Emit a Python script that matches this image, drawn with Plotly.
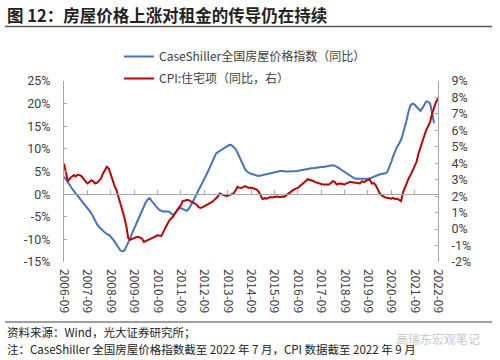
import plotly.graph_objects as go
import pandas as pd

# ---------------- data ----------------
title_text = "图 12：房屋价格上涨对租金的传导仍在持续"
series_names = ["CaseShiller全国房屋价格指数（同比）", "CPI:住宅项（同比，右）"]

# Case-Shiller national YoY (%), monthly 2006-09 .. 2022-07
cs_start = "2006-09-01"
cs_yoy = [
    3.9, 3.2, 2.5, 1.9, 1.3, 0.7, 0.2, -0.4, -0.9, -1.4, -1.9, -2.4,
    -3.0, -3.6, -4.2, -5.0, -5.9, -6.7, -7.2, -7.7, -8.1, -8.5, -8.8, -9.0,
    -9.4, -9.9, -10.5, -11.2, -11.9, -12.5, -12.6, -12.5, -11.6, -10.8, -9.8, -8.6,
    -7.6, -6.7, -5.8, -4.8, -3.6, -2.7, -1.8, -1.2, -0.9, -1.5, -2.1, -2.7,
    -3.1, -3.5, -3.8, -3.9, -3.8, -3.8, -3.9, -4.3, -4.6, -4.2, -3.6, -3.2,
    -3.1, -3.3, -3.6, -3.7, -3.3, -2.6, -1.8, -0.9, 0.0, 0.9, 1.7, 2.4,
    3.3, 4.2, 5.1, 6.1, 7.1, 8.1, 8.9, 9.3, 9.5, 9.8, 10.1, 10.4,
    10.7, 10.9, 10.8, 10.5, 10.0, 9.2, 8.3, 7.3, 6.3, 5.5, 5.0, 4.7,
    4.5, 4.4, 4.2, 4.1, 4.0, 4.1, 4.2, 4.3, 4.5, 4.6, 4.7, 4.7,
    4.8, 4.9, 5.0, 5.1, 5.1, 5.0, 5.0, 5.0, 5.0, 5.0, 5.1, 5.1,
    5.1, 5.2, 5.3, 5.4, 5.5, 5.6, 5.6, 5.7, 5.7, 5.8, 5.9, 6.0,
    6.0, 6.0, 6.1, 6.1, 6.2, 6.3, 6.4, 6.3, 6.1, 5.8, 5.5, 5.2,
    4.9, 4.6, 4.3, 4.0, 3.7, 3.5, 3.4, 3.4, 3.3, 3.3, 3.3, 3.3,
    3.4, 3.5, 3.6, 3.8, 4.0, 4.2, 4.4, 4.5, 4.5, 4.6, 4.9, 5.9,
    7.1, 8.4, 9.6, 10.5, 11.2, 12.0, 13.3, 14.7, 16.5, 18.5, 19.7, 20.0,
    19.8, 19.3, 18.8, 18.4, 19.0, 20.0, 20.5, 20.4, 20.0, 17.9, 15.7,
]

# CPI housing YoY (%), monthly 2006-09 .. 2022-09 (right axis)
cpi_start = "2006-09-01"
cpi_housing = [
    3.98, 3.48, 2.91, 3.07, 3.17, 3.28, 3.20, 3.30, 3.28, 3.22, 3.07, 2.95,
    2.77, 2.85, 2.97, 2.90, 2.77, 2.82, 2.95, 3.07, 3.37, 3.60, 3.78, 3.68,
    3.30, 2.87, 2.60, 2.36, 1.96, 1.55, 1.15, 0.70, 0.20, -0.55, -0.65, -0.58,
    -0.55, -0.50, -0.47, -0.52, -0.58, -0.78, -0.72, -0.67, -0.60, -0.53, -0.50, -0.45,
    -0.37, -0.40, -0.41, -0.17, 0.05, 0.33, 0.50, 0.65, 0.74, 0.95, 1.15, 1.30,
    1.45, 1.71, 1.72, 1.78, 1.76, 1.70, 1.62, 1.55, 1.50, 1.35, 1.29, 1.32,
    1.38, 1.45, 1.49, 1.55, 1.65, 1.76, 1.85, 1.98, 2.16, 2.10, 2.05, 2.02,
    2.02, 2.08, 2.12, 2.16, 2.35, 2.57, 2.52, 2.50, 2.55, 2.61, 2.55, 2.50,
    2.52, 2.48, 2.46, 2.40, 2.26, 2.05, 1.82, 1.88, 1.85, 1.90, 1.95, 1.92,
    1.96, 1.98, 1.96, 1.94, 1.98, 1.96, 2.05, 2.15, 2.26, 2.35, 2.40, 2.46,
    2.50, 2.60, 2.70, 2.77, 2.90, 3.03, 3.00, 2.97, 2.92, 2.85, 2.80, 2.77,
    2.74, 2.71, 2.70, 2.72, 2.71, 2.80, 2.91, 2.87, 2.71, 2.75, 2.77, 2.74,
    2.71, 2.78, 2.85, 2.87, 2.84, 2.81, 2.80, 2.78, 2.77, 2.91, 2.85, 2.93,
    2.97, 3.02, 2.77, 2.80, 2.67, 2.40, 2.20, 2.06, 1.98, 1.92, 1.90, 1.88,
    1.85, 1.90, 1.82, 1.85, 1.75, 1.70, 2.20, 2.55, 2.87, 3.10, 3.30, 3.55,
    3.85, 4.09, 4.60, 5.00, 5.40, 5.70, 6.01, 6.30, 6.52, 7.02, 7.40, 7.73, 7.93,
]

x_tick_dates = [f"{y}-09-01" for y in range(2006, 2023)]
x_tick_labels = [f"{y}-09" for y in range(2006, 2023)]
left_ticks = [-15, -10, -5, 0, 5, 10, 15, 20, 25]
right_ticks = [-2, -1, 0, 1, 2, 3, 4, 5, 6, 7, 8, 9]
left_labels = [f"{v}%" for v in left_ticks]
right_labels = [f"{v}%" for v in right_ticks]

source_line1 = "资料来源：Wind，光大证券研究所；"
source_line2 = "注：CaseShiller 全国房屋价格指数截至 2022 年 7 月，CPI 数据截至 2022 年 9 月"
watermark = "高瑞东宏观笔记"

# ---------------- figure ----------------
FONT = "Noto Sans CJK SC"
TICKFONT = "Roboto"
BLUE = "#4472C4"
RED = "#C00000"
AXIS = "#A6A6A6"
TXT = "#404040"

cs_dates = pd.date_range(cs_start, periods=len(cs_yoy), freq="MS")
cpi_dates = pd.date_range(cpi_start, periods=len(cpi_housing), freq="MS")

fig = go.Figure()
fig.add_trace(go.Scatter(x=cs_dates, y=cs_yoy, mode="lines", name=series_names[0],
                         line=dict(color=BLUE, width=2), xaxis="x", yaxis="y",
                         legendgroup="a"))
fig.add_trace(go.Scatter(x=cpi_dates, y=cpi_housing, mode="lines", name=series_names[1],
                         line=dict(color=RED, width=2), xaxis="x2", yaxis="y2",
                         legendgroup="b"))

xrange = [x_tick_dates[0], x_tick_dates[-1]]
ML, MR, MT, MB = 64, 62, 81, 98
W, H = 500, 360
PW, PH = W - ML - MR, H - MT - MB

def px(x):
    return (x - ML) / PW

def py(y):
    return (H - MB - y) / PH

fig.update_layout(
    width=W, height=H,
    margin=dict(l=ML, r=MR, t=MT, b=MB, pad=0, autoexpand=False),
    paper_bgcolor="white", plot_bgcolor="white",
    font=dict(family=FONT, size=12, color=TXT),
    showlegend=True,
    legend=dict(xref="container", yref="container", x=119 / W, y=1 - 42 / H,
                xanchor="left", yanchor="top",
                bgcolor="rgba(0,0,0,0)", font=dict(size=12, color=TXT),
                traceorder="grouped", tracegroupgap=3, itemwidth=30),
    xaxis=dict(type="date", range=xrange, tickvals=x_tick_dates, ticktext=x_tick_labels,
               tickangle=90, showline=False, ticks="", showgrid=False, zeroline=False,
               tickfont=dict(family=FONT, size=12, color=TXT), ticklabelstandoff=6,
               automargin=False),
    xaxis2=dict(type="date", range=xrange, overlaying="x", anchor="free",
                position=15 / 40, tickvals=x_tick_dates, showticklabels=False,
                showline=True, linecolor=AXIS, linewidth=1, ticks="inside",
                ticklen=4, tickcolor=AXIS, showgrid=False, zeroline=False, automargin=False),
    yaxis=dict(range=[-15, 25], tickvals=left_ticks, ticktext=left_labels,
               showline=True, linecolor=AXIS, linewidth=1, ticks="inside", ticklen=3,
               tickcolor=AXIS, showgrid=False, zeroline=False, automargin=False,
               tickfont=dict(family=TICKFONT, size=12.5, color=TXT), ticklabelstandoff=10),
    yaxis2=dict(range=[-2, 9], tickvals=right_ticks, ticktext=right_labels,
                overlaying="y", side="right", anchor="x2", automargin=False,
                showline=True, linecolor=AXIS, linewidth=1, ticks="inside", ticklen=3,
                tickcolor=AXIS, showgrid=False, zeroline=False,
                tickfont=dict(family=TICKFONT, size=12.5, color=TXT), ticklabelstandoff=10),
)

fig.add_annotation(text=f"<b>{title_text}</b>", xref="paper", yref="paper",
                   x=px(5), y=py(15), xanchor="left", yanchor="middle", showarrow=False,
                   font=dict(family=FONT, size=16.5, color="#222222"))
fig.add_shape(type="line", xref="paper", yref="paper", x0=px(5), x1=px(492),
              y0=py(26.5), y1=py(26.5), line=dict(color="#595959", width=1.5))
fig.add_shape(type="line", xref="paper", yref="paper", x0=px(5), x1=px(492),
              y0=py(322), y1=py(322), line=dict(color="#404040", width=1.2))
fig.add_annotation(text=source_line1, xref="paper", yref="paper",
                   x=px(5), y=py(332), xanchor="left", yanchor="middle", showarrow=False,
                   font=dict(family=FONT, size=11.5, color="#222222"))
fig.add_annotation(text=source_line2, xref="paper", yref="paper",
                   x=px(5), y=py(349), xanchor="left", yanchor="middle", showarrow=False,
                   font=dict(family=FONT, size=11.5, color="#222222"))
fig.add_annotation(text=watermark, xref="paper", yref="paper",
                   x=px(482), y=py(338), xanchor="right", yanchor="middle", showarrow=False,
                   font=dict(family=FONT, size=12, color="#C8C8C8"))

fig.write_html("out.html", config={"displayModeBar": False},
               post_script="document.body.style.margin='0';document.body.style.overflow='hidden';")
